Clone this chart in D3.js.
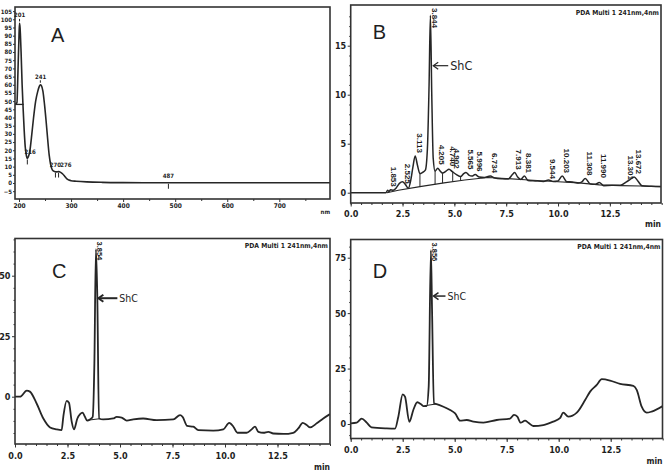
<!DOCTYPE html>
<html><head><meta charset="utf-8">
<script src="https://cdn.jsdelivr.net/npm/d3@7"></script>
<style>
body{margin:0;background:#fff;}
svg text{font-family:"Liberation Sans Narrow","Arial Narrow","DejaVu Sans Condensed","Liberation Sans",sans-serif;font-weight:bold;fill:#1e1e1e;}
</style></head><body>
<script>
// ================= DATA =================
// Panel A: UV spectrum
const specWavelength = [192,196,198,200,201,202,204,206,208,210,212,214,216,218,221,224,228,232,236,239,241,243,246,249,252,255,258,261,264,268,272,276,280,284,288,292,296,300,310,330,360,400,500,800];
const specAbsorbance = [48,49,68,90,97.5,95,80,60,45,32,22,17,15,16,20,28,40,50,56,59,60,59.5,56,48,38,27,17,11,8,7,6.8,7,6.5,5.5,4,2.5,1.8,1.4,1.1,0.7,0.4,0.25,0.15,0.15];
const specMarkLambda = [201,216,241,270,276,487];
const specMarkValue  = [97.5,15,60,7,7,0.15];
const specMarkLabel  = ["201","216","241","270","276","487"];
const specMarkKind   = ["peak","valley","peak","valley","valley","valley"];
const specFlatLambda = [192,209];
const specFlatValue  = [48,48];
const specXTicks = [200,300,400,500,600,700];
const specXMinor = [250,350,450,550,650,750];
const specYTicks = [-5,0,5,10,15,20,25,30,35,40,45,50,55,60,65,70,75,80,85,90,95,100,105];

// Time axis (B, C, D)
const timeTicks = [0,2.5,5,7.5,10,12.5];
const timeTickLabels = ["0.0","2.5","5.0","7.5","10.0","12.5"];

// Panel B: chromatogram
const bTime   = [0,1.70,1.78,1.85,1.92,2.05,2.2,2.35,2.5,2.62,2.78,2.9,3.0,3.11,3.22,3.34,3.45,3.6,3.7,3.78,3.844,3.91,3.98,4.07,4.2,4.3,4.43,4.6,4.74,4.9,5.1,5.3,5.45,5.56,5.7,5.85,6.0,6.2,6.45,6.73,6.95,7.3,7.6,7.8,7.91,8.05,8.2,8.38,8.55,8.9,9.3,9.54,9.75,10.0,10.2,10.42,10.7,11.0,11.15,11.31,11.55,11.8,11.99,12.2,12.6,13.0,13.3,13.45,13.67,13.85,14.05,14.5,15];
const bSignal = [0,0,0.25,0.12,0.3,0.25,0.5,0.95,1.12,0.9,0.45,1.3,2.6,3.75,2.8,1.95,2.05,2.3,4.5,11,18.1,10,3.5,2.2,2.5,2.25,2.0,2.2,2.4,2.15,1.85,1.65,1.95,2.07,1.8,1.7,1.85,1.6,1.55,1.7,1.5,1.42,1.4,1.85,2.05,1.6,1.35,1.7,1.25,1.2,1.15,1.3,1.15,1.2,1.7,1.12,1.1,1.0,1.1,1.45,0.9,0.85,1.05,0.72,0.75,0.75,1.1,1.3,1.6,1.2,0.7,0.65,0.62];
const bBaseTime  = [1.75,2.3,3.34,4.5,5.5,6.6,7.5,8.6,10.0,11.0,12.0,13.0,14.0,15.0];
const bBaseValue = [0,0.25,0.62,1.0,1.3,1.55,1.45,1.3,1.12,1.0,0.8,0.72,0.68,0.62];
const bDropTime  = [3.34,4.07,4.43,4.92,5.3];
const bDropValue = [1.95,2.2,2.0,2.1,1.65];
const bPeakTime   = [1.853,2.525,3.113,3.844,4.205,4.740,4.902,5.565,5.996,6.734,7.913,8.381,9.544,10.203,11.308,11.990,13.301,13.672];
const bPeakHeight = [0.3,0.6,3.75,18.1,2.55,2.4,2.15,2.07,1.85,1.7,2.05,1.7,1.1,1.7,1.45,1.2,1.0,1.6];
const bPeakLabel  = ["1.853","2.525","3.113","3.844","4.205","4.740","4.902","5.565","5.996","6.734","7.913","8.381","9.544","10.203","11.308","11.990","13.301","13.672"];
const bYTicks = [0,5,10,15];

// Panel C
const cTime   = [0,0.24,0.56,0.71,1.03,1.35,1.67,1.98,2.22,2.3,2.46,2.57,2.7,2.81,2.97,3.1,3.22,3.33,3.44,3.57,3.7,3.78,3.854,3.92,4.0,4.2,4.68,4.84,5.08,5.32,5.63,6.1,6.75,7.54,7.86,7.98,8.2,8.49,8.73,9.44,9.92,10.2,10.4,10.59,11.03,11.27,11.43,11.59,11.83,12.06,12.3,12.78,13.25,13.49,13.7,13.89,14.05,14.37,14.68,15];
const cSignal = [0,0,2.5,2.1,-2.8,-9,-12.7,-13.5,-13.8,-8.3,-1.7,-2.5,-10.3,-13.5,-9,-7.2,-6.6,-8.3,-9.9,-9.4,-8.3,13.8,61,41,-9,-9.4,-9,-8.3,-8.6,-9.9,-9.4,-9,-9.7,-9.4,-7.6,-8.3,-12.1,-12.4,-13.8,-14,-13.5,-10.8,-12.4,-14.9,-14.9,-13.5,-12.4,-14.5,-14.9,-14.5,-15.2,-15.4,-14.9,-13.1,-10.8,-11.7,-12.7,-11,-9,-7.2];
const cBaseTime = [3.45,4.02];
const cBaseValue = [-9.7,-9.1];
const cPeakTime = [3.854], cPeakHeight = [61], cPeakLabel = ["3.854"];
const cYTicks = [0,25,50];

// Panel D
const dTime   = [0,0.29,0.53,0.77,1.0,1.73,2.13,2.29,2.5,2.61,2.82,3.01,3.2,3.37,3.49,3.65,3.75,3.856,3.91,4.0,4.13,4.46,4.78,5.02,5.26,5.58,5.9,6.38,7.02,7.66,7.85,8.01,8.17,8.38,8.54,8.78,9.26,9.74,10.06,10.22,10.46,10.87,11.27,11.51,11.83,12.07,12.47,12.95,13.59,13.75,13.99,14.23,14.47,15];
const dSignal = [0.3,0.6,2.4,0.6,-1.5,-2,-2.1,3.3,13.4,12.3,1,6.3,9.8,9,8.1,8.1,16.9,78.4,52,9.3,9,7.8,6.3,4.8,1.5,1.8,1.1,0.6,1.8,2.4,4.1,3.3,0.6,1.5,0.6,-0.9,-0.5,1.1,2.6,5.1,3.3,5.1,10.8,14.6,17.6,20.2,19.6,18.1,17.2,15.4,7.8,5.1,5.6,8.1];
const dBaseTime = [3.55,4.1];
const dBaseValue = [8.2,9.0];
const dPeakTime = [3.856], dPeakHeight = [78.4], dPeakLabel = ["3.856"];
const dYTicks = [0,25,50,75];

// ================= DRAW =================
const svg = d3.select("body").append("svg").attr("width",667).attr("height",473);
const INK = "#262626";
const defs = svg.append("defs");

function panel(id, f){
  defs.append("clipPath").attr("id","clip"+id).append("rect")
    .attr("x",f.x0).attr("y",f.y0).attr("width",f.x1-f.x0).attr("height",f.y1-f.y0);
  const g = svg.append("g");
  const plot = g.append("g").attr("clip-path","url(#clip"+id+")");
  g.append("rect").attr("x",f.x0).attr("y",f.y0).attr("width",f.x1-f.x0).attr("height",f.y1-f.y0)
    .attr("fill","none").attr("stroke","#333").attr("stroke-width",1.6);
  return {g, plot};
}
function styleAxis(sel, fs){
  sel.select(".domain").remove();
  sel.selectAll("line").attr("stroke","#333").attr("stroke-width",1);
  sel.selectAll("text").attr("font-size",fs).attr("fill","#1e1e1e");
}
function lineOf(x,y,xs,ys,curve){
  return d3.line().x((d,i)=>x(xs[i])).y((d,i)=>y(ys[i])).curve(curve||d3.curveMonotoneX)(xs);
}

// ---------- Panel A ----------
{
  const F = {x0:15,x1:330,y0:7,y1:199};
  const x = d3.scaleLinear().domain([200,700]).range([19,279.3]);
  const y = d3.scaleLinear().domain([0,100]).range([183,19.3]);
  const {g,plot} = panel("A",F);
  plot.append("path").attr("d",lineOf(x,y,specWavelength,specAbsorbance))
    .attr("fill","none").attr("stroke",INK).attr("stroke-width",1.6);
  plot.append("path").attr("d",lineOf(x,y,specFlatLambda,specFlatValue,d3.curveLinear))
    .attr("fill","none").attr("stroke",INK).attr("stroke-width",1.3);
  // marks
  let prevEnd = -1e9;
  specMarkLambda.forEach((l,i)=>{
    const px = x(l), py = y(specMarkValue[i]);
    const peak = specMarkKind[i]==="peak";
    const w = 9;
    let cx = px;
    if(cx - w/2 < prevEnd + 1.5) cx = prevEnd + 1.5 + w/2;
    prevEnd = cx + w/2;
    g.append("text").attr("x",cx).attr("y",peak?py-6:py-4.5).attr("text-anchor","middle")
      .attr("font-size",6).text(specMarkLabel[i]);
    g.append("line").attr("x1",px).attr("x2",px)
      .attr("y1",peak?py-4.5:py+1).attr("y2",peak?py-2:py+6)
      .attr("stroke",INK).attr("stroke-width",1);
  });
  const ax = g.append("g").attr("transform",`translate(0,${F.y1})`)
    .call(d3.axisBottom(x).tickValues(specXTicks).tickSize(3).tickPadding(1).tickFormat(d3.format("d")));
  styleAxis(ax,6.5);
  const axm = g.append("g").attr("transform",`translate(0,${F.y1})`)
    .call(d3.axisBottom(x).tickValues(specXMinor).tickSize(2).tickFormat(""));
  styleAxis(axm,6);
  const ay = g.append("g").attr("transform",`translate(${F.x0},0)`)
    .call(d3.axisLeft(y).tickValues(specYTicks).tickSize(2).tickPadding(1).tickFormat(d3.format("d")));
  styleAxis(ay,6);
  g.append("text").attr("x",F.x1).attr("y",213.5).attr("text-anchor","end").attr("font-size",6).text("nm");
  g.append("text").attr("x",51).attr("y",42).attr("font-size",20)
    .style("font-family","'Liberation Sans',sans-serif").style("font-weight","normal").text("A");
}

// ---------- generic chromatogram panel ----------
function chrom(id, F, x, y, T, S, baseT, baseV, pkT, pkH, pkL, yTicks, opts){
  const {g,plot} = panel(id,F);
  plot.append("path").attr("d",lineOf(x,y,baseT,baseV,d3.curveLinear))
    .attr("fill","none").attr("stroke",INK).attr("stroke-width",1.1);
  plot.append("path").attr("d",lineOf(x,y,T,S))
    .attr("fill","none").attr("stroke",INK).attr("stroke-width",opts.lw||1.5);
  if(opts.dropT){
    const base = d3.scaleLinear().domain(baseT).range(baseV);
    opts.dropT.forEach((t,i)=>{
      plot.append("line").attr("x1",x(t)).attr("x2",x(t)).attr("y1",y(opts.dropV[i])).attr("y2",y(base(t)))
        .attr("stroke",INK).attr("stroke-width",1);
    });
  }
  // peak labels (rotated)
  const pfs = opts.pkFs||8;
  pkT.forEach((t,i)=>{
    const len = pkL[i].length*pfs*0.5;
    let endY = y(pkH[i]) - 3;
    if(endY - len < F.y0 + 3) endY = F.y0 + 3 + len;
    g.append("text").attr("transform",`translate(${x(t)+1.5},${endY}) rotate(90)`)
      .attr("text-anchor","end").attr("font-size",pfs)
      .style("font-family","'Liberation Sans',sans-serif").text(pkL[i]);
  });
  // axes
  const minor = d3.range(0,15.01,0.5);
  const axm = g.append("g").attr("transform",`translate(0,${F.y1})`)
    .call(d3.axisBottom(x).tickValues(minor).tickSize(2).tickFormat(""));
  styleAxis(axm,8);
  const ax = g.append("g").attr("transform",`translate(0,${F.y1})`)
    .call(d3.axisBottom(x).tickValues(timeTicks).tickSize(3.5).tickPadding(opts.xpad)
      .tickFormat((d,i)=>timeTickLabels[i]));
  styleAxis(ax,9);
  const ay = g.append("g").attr("transform",`translate(${F.x0},0)`)
    .call(d3.axisLeft(y).tickValues(yTicks).tickSize(3).tickPadding(1.5).tickFormat(d3.format("d")));
  styleAxis(ay,9);
  const aym = g.append("g").attr("transform",`translate(${F.x0},0)`)
    .call(d3.axisLeft(y).tickValues(opts.yMinor).tickSize(1.5).tickFormat(""));
  styleAxis(aym,8);
  g.append("text").attr("x",F.x1).attr("y",opts.minY).attr("text-anchor","end").attr("font-size",8.5).text("min");
  g.append("text").attr("x",F.x1-2).attr("y",F.y0+9.5).attr("text-anchor","end").attr("font-size",6.8)
    .text("PDA Multi 1 241nm,4nm");
  g.append("text").attr("x",F.x0+opts.letterDx).attr("y",F.y0+opts.letterDy).attr("font-size",20)
    .style("font-family","'Liberation Sans',sans-serif").style("font-weight","normal").text(id);
  // ShC arrow
  const ax0 = x(opts.arrowT), ay0 = y(opts.arrowV);
  const a = g.append("g").attr("stroke",INK).attr("stroke-width",opts.arrowW).attr("fill","none");
  a.append("line").attr("x1",ax0+0.5).attr("y1",ay0).attr("x2",ax0+opts.arrowLen).attr("y2",ay0);
  a.append("path").attr("d",`M${ax0+5},${ay0-3.5}L${ax0},${ay0}L${ax0+5},${ay0+3.5}`);
  g.append("text").attr("x",ax0+opts.arrowLen+2).attr("y",ay0+opts.shcDy).attr("font-size",opts.shcFs)
    .style("font-weight","normal").text("ShC");
}

chrom("B",{x0:350.7,x1:661,y0:5,y1:203},
  d3.scaleLinear().domain([0,15]).range([350.7,661.7]),
  d3.scaleLinear().domain([0,15]).range([192.7,45.7]),
  bTime,bSignal,bBaseTime,bBaseValue,bPeakTime,bPeakHeight,bPeakLabel,bYTicks,
  {dropT:bDropTime,dropV:bDropValue,xpad:4,minY:226.5,letterDx:22,letterDy:34,
   arrowT:3.98,arrowV:12.96,arrowLen:15,arrowW:1.2,shcFs:12.5,shcDy:4.5,yMinor:[1,2,3,4,6,7,8,9,11,12,13,14,16,17,18],lw:1.5,pkFs:8});

chrom("C",{x0:15,x1:330,y0:238.5,y1:444},
  d3.scaleLinear().domain([0,15]).range([15,330]),
  d3.scaleLinear().domain([0,50]).range([396.7,275.7]),
  cTime,cSignal,cBaseTime,cBaseValue,cPeakTime,cPeakHeight,cPeakLabel,cYTicks,
  {xpad:5,minY:470,letterDx:37,letterDy:39.5,
   arrowT:3.97,arrowV:40.7,arrowLen:19,arrowW:2,shcFs:10.5,shcDy:3.8,yMinor:[-15,-10,-5,5,10,15,20,30,35,40,45,55,60,65],pkFs:7.5,lw:1.8});

chrom("D",{x0:350.7,x1:662.5,y0:239.5,y1:438.5},
  d3.scaleLinear().domain([0,15]).range([350.7,662.7]),
  d3.scaleLinear().domain([0,75]).range([424,257.7]),
  dTime,dSignal,dBaseTime,dBaseValue,dPeakTime,dPeakHeight,dPeakLabel,dYTicks,
  {xpad:4.5,minY:463.5,letterDx:22,letterDy:38.5,
   arrowT:3.98,arrowV:57.7,arrowLen:12,arrowW:1.5,shcFs:10.5,shcDy:3.8,yMinor:[-5,5,10,15,20,30,35,40,45,55,60,65,70,80],pkFs:7.5,lw:1.8});
</script>
</body></html>
